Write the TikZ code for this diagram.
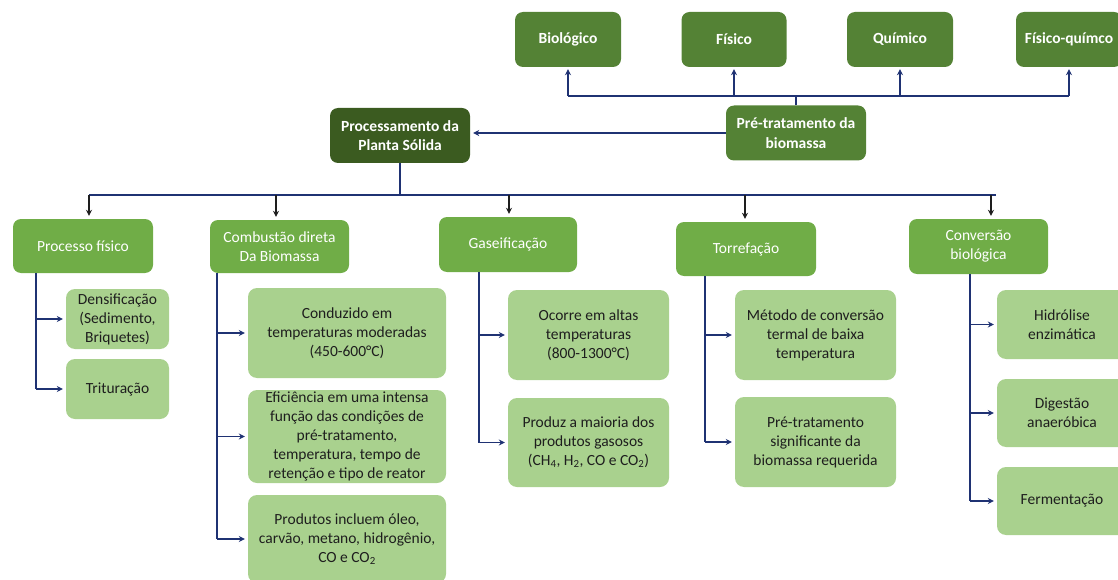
\documentclass[tikz,border=0pt]{standalone}
\usepackage{fontspec}
\setmainfont{Carlito}
\usetikzlibrary{arrows.meta}
\definecolor{topgreen}{HTML}{548235}
\definecolor{rootgreen}{HTML}{3B5B20}
\definecolor{midgreen}{HTML}{70AD47}
\definecolor{leafgreen}{HTML}{A9D18E}
\definecolor{wire}{RGB}{31,50,115}
\definecolor{ink}{HTML}{1E1E1E}
\begin{document}
\begin{tikzpicture}[x=1pt,y=-1pt,
  every node/.style={font=\fontsize{15.5}{19}\selectfont, align=center, inner sep=0pt},
  wh/.style 2 args={minimum width=#1pt, minimum height=#2pt},
  toplvl/.style={fill=topgreen, text=white, rounded corners=8pt,
                 font=\fontsize{15.5}{19.5}\selectfont\bfseries},
  rootbox/.style={toplvl, fill=rootgreen},
  midbox/.style={fill=midgreen, text=white, rounded corners=8pt},
  leafbox/.style={fill=leafgreen, text=ink, rounded corners=9pt},
  wirel/.style={draw=wire, line width=2pt},
  arr/.style={draw=wire, line width=1.8pt, -{Stealth[length=6pt,width=6pt]}, shorten >=3pt},
  drop/.style={draw=ink, line width=1.4pt, -{Stealth[length=6pt,width=6pt]}, shorten >=3pt}
]
\useasboundingbox (0,0) rectangle (1118,580);

% pre-treatment methods
\node[toplvl, wh={106}{55}] (bio) at (568,39.5)  {Biológico};
\node[toplvl, wh={105}{55}] (fis) at (734,39.5)  {Físico};
\node[toplvl, wh={106}{55}] (qui) at (900,39.5)  {Químico};
\node[toplvl, wh={106}{55}] (fq)  at (1069,39.5) {Físico-químco};

\node[toplvl, wh={140}{55}] (pre)  at (796,133)   {Pré-tratamento da\\biomassa};
\node[rootbox, wh={140}{55}] (proc) at (400,135.5) {Processamento da\\Planta Sólida};

% main processes
\node[midbox, wh={140}{54}] (pf)  at (83,246)    {Processo físico};
\node[midbox, wh={139}{53}] (cd)  at (279.5,246.5) {Combustão direta\\Da Biomassa};
\node[midbox, wh={138}{55}] (gas) at (508,244.5) {Gaseificação};
\node[midbox, wh={140}{54}] (tor) at (746,249)   {Torrefação};
\node[midbox, wh={139}{55}] (cb)  at (978.5,246.5) {Conversão\\biológica};

% details: physical process
\node[leafbox, wh={103}{60}] (dens) at (117.5,319) {Densificação\\(Sedimento,\\Briquetes)};
\node[leafbox, wh={103}{60}] (trit) at (117.5,389) {Trituração};

% details: direct combustion
\node[leafbox, wh={198}{90}] (cond) at (347,333)   {Conduzido em\\temperaturas moderadas\\(450-600°C)};
\node[leafbox, wh={198}{93}] (efic) at (347,436.5) {Eficiência em uma intensa\\função das condições de\\pré-tratamento,\\temperatura, tempo de\\retenção e tipo de reator};
\node[leafbox, wh={198}{88}] (prod) at (347,539)   {Produtos incluem óleo,\\carvão, metano, hidrogênio,\\CO e CO\textsubscript{2}};

% details: gasification
\node[leafbox, wh={161}{90}] (ocor) at (588.5,335)   {Ocorre em altas\\temperaturas\\(800-1300°C)};
\node[leafbox, wh={161}{89}] (gpro) at (588.5,442.5) {Produz a maioria dos\\produtos gasosos\\(CH\textsubscript{4}, H\textsubscript{2}, CO e CO\textsubscript{2})};

% details: torrefaction
\node[leafbox, wh={161}{90}] (met) at (815.5,335) {Método de conversão\\termal de baixa\\temperatura};
\node[leafbox, wh={161}{90}] (sig) at (815.5,442) {Pré-tratamento\\significante da\\biomassa requerida};

% details: biological conversion
\node[leafbox, wh={130}{69}] (hid) at (1062,324.5) {Hidrólise\\enzimática};
\node[leafbox, wh={130}{68}] (dig) at (1062,413)   {Digestão\\anaeróbica};
\node[leafbox, wh={130}{68}] (fer) at (1062,501)   {Fermentação};

% upper bus: pre-treatment to its methods
\coordinate (tb) at (0,96);
\draw[wirel] (bio.south |- tb) -- (fq.south |- tb);
\draw[wirel] (pre.north) -- (pre.north |- tb);
\foreach \n in {bio,fis,qui,fq}
  \draw[arr, shorten >=2pt] (\n.south |- tb) -- (\n.south);

% pre-treatment feeds the solid plant processing
\draw[arr] (pre.west) -- (pre.west -| proc.east);

% lower bus: processing to the main processes
\coordinate (d1) at (89,195);
\coordinate (d2) at (276,195);
\coordinate (d3) at (509,195);
\coordinate (d4) at (745,195);
\coordinate (d5) at (991,195);
\coordinate (d6) at (996,195);
\draw[wirel] (proc.south) -- (proc.south |- d1);
\draw[wirel] (d1) -- (d6);
\draw[drop] (d1) -- (d1 |- pf.north);
\draw[drop] (d2) -- (d2 |- cd.north);
\draw[drop] (d3) -- (d3 |- gas.north);
\draw[drop] (d4) -- (d4 |- tor.north);
\draw[drop] (d5) -- (d5 |- cb.north);

% trunks to the details
\coordinate (t1) at (36,0);
\coordinate (t2) at (217,0);
\coordinate (t3) at (479,0);
\coordinate (t4) at (705,0);
\coordinate (t5) at (970,0);

\draw[wirel] (t1 |- pf.south) -- (t1 |- trit.west);
\foreach \n in {dens,trit} \draw[arr] (t1 |- \n.west) -- (\n.west);

\draw[wirel] (t2 |- cd.south) -- (t2 |- prod.west);
\foreach \n in {cond,efic,prod} \draw[arr] (t2 |- \n.west) -- (\n.west);

\draw[wirel] (t3 |- gas.south) -- (t3 |- gpro.west);
\foreach \n in {ocor,gpro} \draw[arr] (t3 |- \n.west) -- (\n.west);

\draw[wirel] (t4 |- tor.south) -- (t4 |- sig.west);
\foreach \n in {met,sig} \draw[arr] (t4 |- \n.west) -- (\n.west);

\draw[wirel] (t5 |- cb.south) -- (t5 |- fer.west);
\foreach \n in {hid,dig,fer} \draw[arr] (t5 |- \n.west) -- (\n.west);
\end{tikzpicture}
\end{document}
